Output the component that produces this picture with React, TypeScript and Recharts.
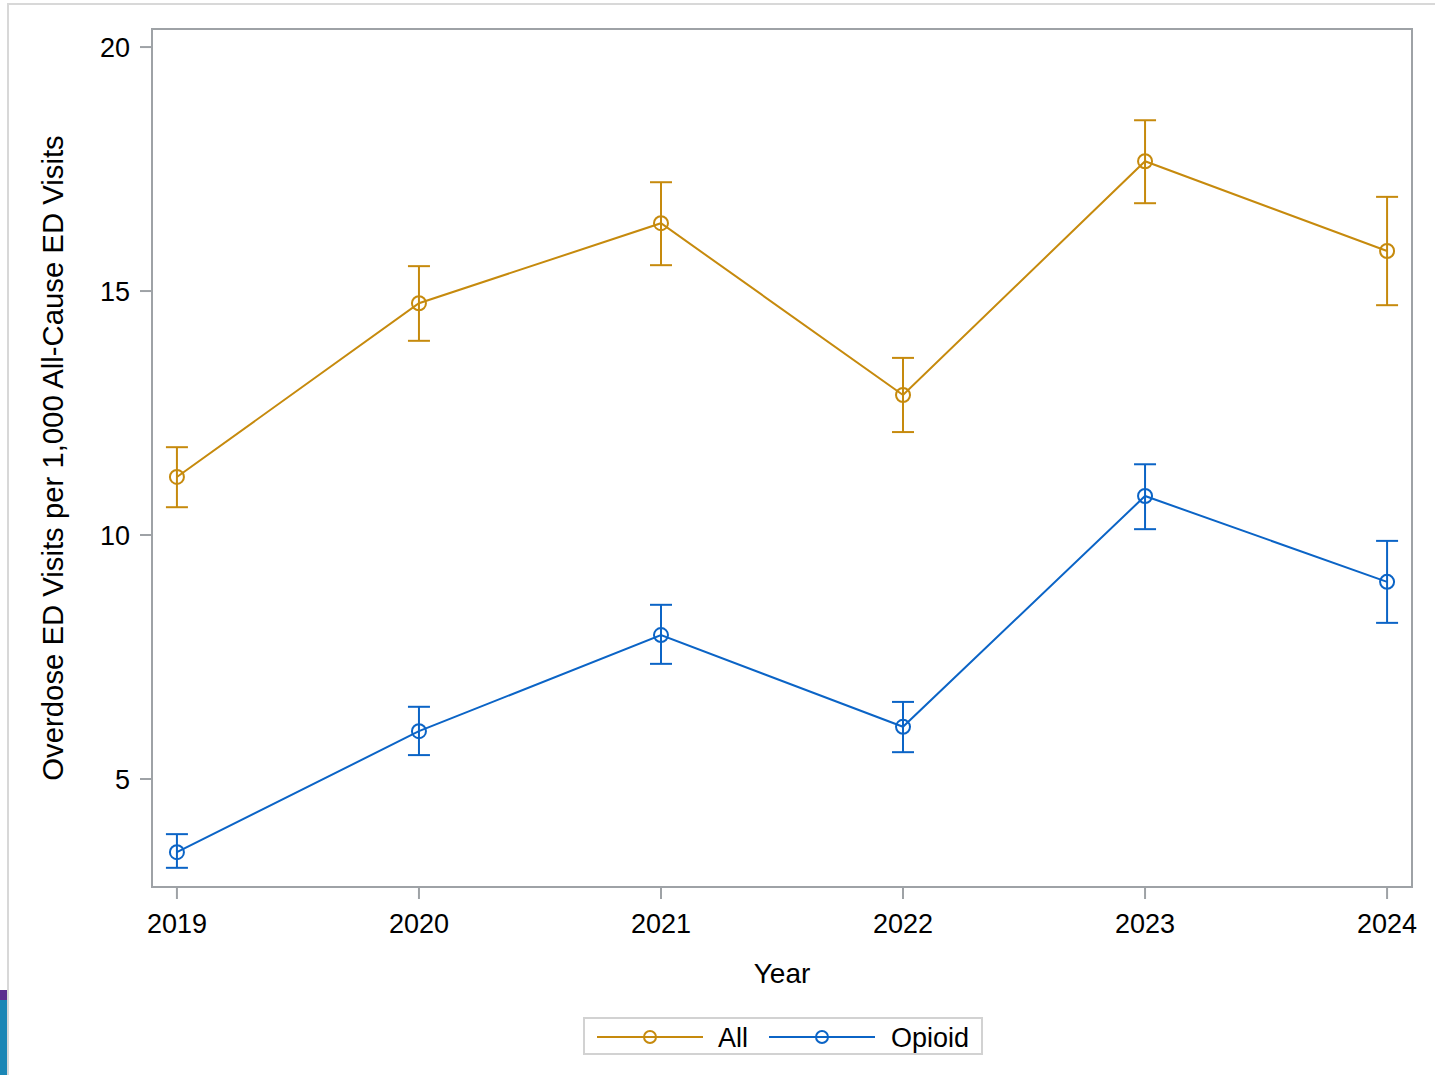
import React from 'react';
import { LineChart, Line, XAxis, YAxis, ErrorBar, ReferenceArea, Legend } from 'recharts';

const years = [2019, 2020, 2021, 2022, 2023, 2024];
const allRate = [11.19, 14.75, 16.39, 12.87, 17.66, 15.82];
const allLow = [10.57, 13.98, 15.53, 12.11, 16.8, 14.71];
const allHigh = [11.8, 15.51, 17.23, 13.63, 18.5, 16.93];
const opioidRate = [3.5, 5.98, 7.95, 6.07, 10.8, 9.04];
const opioidLow = [3.18, 5.49, 7.36, 5.55, 10.12, 8.2];
const opioidHigh = [3.87, 6.48, 8.57, 6.58, 11.45, 9.88];
const yTicks = [5, 10, 15, 20];
const seriesNames = ['All', 'Opioid'];

const ORANGE = '#C68A0D';
const BLUE = '#0B64C6';
const FRAME = '#9ea2a6';
const FONT = '"Liberation Sans", Arial, Helvetica, sans-serif';

const data = years.map((y, i) => ({
  year: y,
  all: allRate[i],
  allErr: [allRate[i] - allLow[i], allHigh[i] - allRate[i]],
  opioid: opioidRate[i],
  opioidErr: [opioidRate[i] - opioidLow[i], opioidHigh[i] - opioidRate[i]],
}));

const X_DOMAIN: [number, number] = [2018.897, 2024.103];
const Y_DOMAIN: [number, number] = [2.787, 20.37];

const LegendContent = () => {
  const colors = [ORANGE, BLUE];
  return (
    <div
      style={{
        width: 400,
        height: 38,
        boxSizing: 'border-box',
        border: '2px solid #d2d2d2',
        background: '#fff',
      }}
    >
      <svg width={396} height={34} style={{ display: 'block' }}>
        <line x1={12} x2={118} y1={18} y2={18} stroke={colors[0]} strokeWidth={2} />
        <circle cx={65} cy={18} r={6} fill="none" stroke={colors[0]} strokeWidth={2} />
        <text x={133} y={28} fontSize={27} fontFamily={FONT} fill="#000">
          {seriesNames[0]}
        </text>
        <line x1={184} x2={290} y1={18} y2={18} stroke={colors[1]} strokeWidth={2} />
        <circle cx={237} cy={18} r={6} fill="none" stroke={colors[1]} strokeWidth={2} />
        <text x={306} y={28} fontSize={27} fontFamily={FONT} fill="#000">
          {seriesNames[1]}
        </text>
      </svg>
    </div>
  );
};

export default function App() {
  return (
    <div style={{ position: 'absolute', left: 0, top: 0, width: 1435, height: 1075, background: '#fff', fontFamily: FONT }}>
      <LineChart
        width={1435}
        height={1075}
        data={data}
        margin={{ top: 29, right: 23, bottom: 128, left: 0 }}
      >
        <XAxis
          dataKey="year"
          type="number"
          domain={X_DOMAIN}
          ticks={years}
          allowDataOverflow
          axisLine={false}
          tickSize={12}
          tickMargin={15}
          height={60}
          tickLine={{ stroke: FRAME, strokeWidth: 2 }}
          tick={{ fill: '#000', fontSize: 27, fontFamily: FONT }}
          label={{
            content: (props: any) => {
              const vb = props.viewBox || {};
              return (
                <text x={vb.x + vb.width / 2} y={983} textAnchor="middle" fontSize={28} fontFamily={FONT} fill="#000">
                  Year
                </text>
              );
            },
          }}
        />
        <YAxis
          type="number"
          domain={Y_DOMAIN}
          ticks={yTicks}
          allowDataOverflow
          axisLine={false}
          width={152}
          tickSize={12}
          tickMargin={10}
          tickLine={{ stroke: FRAME, strokeWidth: 2 }}
          tick={{ fill: '#000', fontSize: 27, fontFamily: FONT }}
          label={{
            content: (props: any) => {
              const vb = props.viewBox || {};
              const cy = vb.y + vb.height / 2;
              return (
                <text
                  x={63}
                  y={cy}
                  transform={`rotate(-90, 63, ${cy})`}
                  textAnchor="middle"
                  fontSize={29.3}
                  fontFamily={FONT}
                  fill="#000"
                >
                  Overdose ED Visits per 1,000 All-Cause ED Visits
                </text>
              );
            },
          }}
        />
        <ReferenceArea
          x1={X_DOMAIN[0]}
          x2={X_DOMAIN[1]}
          y1={Y_DOMAIN[0]}
          y2={Y_DOMAIN[1]}
          fill="none"
          fillOpacity={0}
          stroke={FRAME}
          strokeWidth={2}
          strokeOpacity={1}
        />
        <Line
          dataKey="all"
          name={seriesNames[0]}
          stroke={ORANGE}
          strokeWidth={2}
          dot={{ r: 7, fill: 'none', stroke: ORANGE, strokeWidth: 2 }}
          activeDot={false}
          isAnimationActive={false}
        >
          <ErrorBar dataKey="allErr" direction="y" width={11} stroke={ORANGE} strokeWidth={2} isAnimationActive={false} />
        </Line>
        <Line
          dataKey="opioid"
          name={seriesNames[1]}
          stroke={BLUE}
          strokeWidth={2}
          dot={{ r: 7, fill: 'none', stroke: BLUE, strokeWidth: 2 }}
          activeDot={false}
          isAnimationActive={false}
        >
          <ErrorBar dataKey="opioidErr" direction="y" width={11} stroke={BLUE} strokeWidth={2} isAnimationActive={false} />
        </Line>
        <Legend
          layout="vertical"
          align="center"
          verticalAlign="middle"
          wrapperStyle={{ left: 583, top: 1017, width: 400, height: 38 }}
          content={<LegendContent />}
        />
      </LineChart>
      <div style={{ position: 'absolute', left: 7, top: 3, width: 1428, height: 2, background: '#d8d8d8' }} />
      <div style={{ position: 'absolute', left: 7, top: 3, width: 2, height: 1072, background: '#d8d8d8' }} />
      <div style={{ position: 'absolute', left: 0, top: 990, width: 7, height: 10, background: '#5b2d8f' }} />
      <div style={{ position: 'absolute', left: 0, top: 1000, width: 7, height: 75, background: '#1b86b5' }} />
    </div>
  );
}
